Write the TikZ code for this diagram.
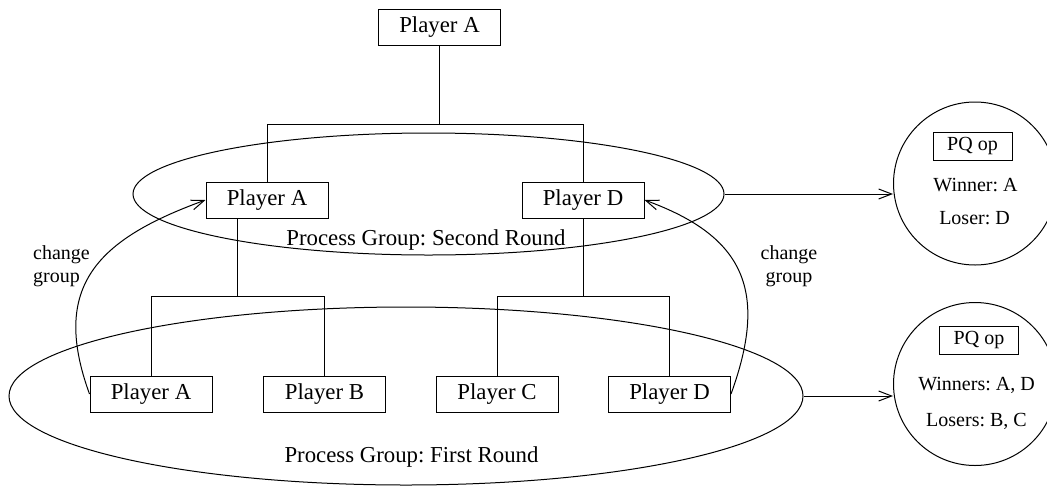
\documentclass[tikz,border=0pt]{standalone}
\usepackage{fontspec}
\setmainfont{Liberation Serif}
\frenchspacing
\usetikzlibrary{shapes.geometric,arrows.meta,calc}

\tikzset{
  player/.style={draw, minimum width=61pt, minimum height=18pt, inner sep=0pt},
  group/.style={draw, ellipse, inner sep=0pt},
  result/.style={draw, circle, minimum size=81.5pt, inner sep=0pt},
  pqbox/.style={draw, minimum width=39.5pt, minimum height=14pt, inner sep=0pt, font=\fontsize{10}{12}\selectfont},
  small/.style={font=\fontsize{10}{11.5}\selectfont},
}

\begin{document}
\begin{tikzpicture}[x=0.5pt, y=0.5pt, line width=0.5pt,
    font=\fontsize{11.4}{13}\selectfont,
    >={Straight Barb[length=6.5pt, width=5pt]}]
    \useasboundingbox (0,0) rectangle (1047,489);

    % Process groups
    \node[group, minimum width=295.5pt, minimum height=61pt] (second) at (428.5,295) {};
    \node (secondlbl) at (426,249) {Process Group: Second Round};
    \node[group, minimum width=397pt, minimum height=89pt] (first) at (406,93) {};
    \node (firstlbl) at (411.5,32) {Process Group: First Round};

    % Players
    \node[player] (top) at (439.5,462) {Player A};
    \node[player] (a2) at (267,289) {Player A};
    \node[player] (d2) at (583,289) {Player D};
    \node[player] (a1) at (151,95) {Player A};
    \node[player] (b1) at (324.5,95) {Player B};
    \node[player] (c1) at (497,95) {Player C};
    \node[player] (d1) at (669.5,95) {Player D};

    % Tree
    \draw (top.south) -- ++(0,-79) coordinate (j2);
    \draw (a2.north) |- (j2) -| (d2.north);
    \coordinate (jab) at ($(a1.north)!0.5!(b1.north) + (0,79)$);
    \coordinate (jcd) at ($(c1.north)!0.5!(d1.north) + (0,79)$);
    \draw (jab |- a2.south) -- (jab);
    \draw (jcd |- d2.south) -- (jcd);
    \draw (a1.north) |- (jab) -| (b1.north);
    \draw (c1.north) |- (jcd) -| (d1.north);

    % Winners move up
    \draw[->] (a1.west) to[out=110, in=200, looseness=1.3] (a2.west);
    \draw[->] (d1.east) to[out=70, in=-20, looseness=1.3] (d2.east);
    \node[small, anchor=west, align=left] (chgl) at (26,223) {change\\group};
    \node[small, align=center] (chgr) at (789,223) {change\\group};

    % Priority queue results
    \node[result] (pq2) at (975,305.5) {};
    \node[pqbox] (op2) at (972.5,343) {PQ op};
    \node[small] (win2) at (975.5,304) {Winner: A};
    \node[small] (los2) at (974.5,271) {Loser: D};

    \node[result] (pq1) at (975,105) {};
    \node[pqbox] (op1) at (979,149) {PQ op};
    \node[small] (win1) at (976.5,104) {Winners: A, D};
    \node[small] (los1) at (976.5,68) {Losers: B, C};

    \draw[->] (second.east) -- (second.east -| pq2.west);
    \draw[->] (first.east) -- (first.east -| pq1.west);
\end{tikzpicture}
\end{document}
